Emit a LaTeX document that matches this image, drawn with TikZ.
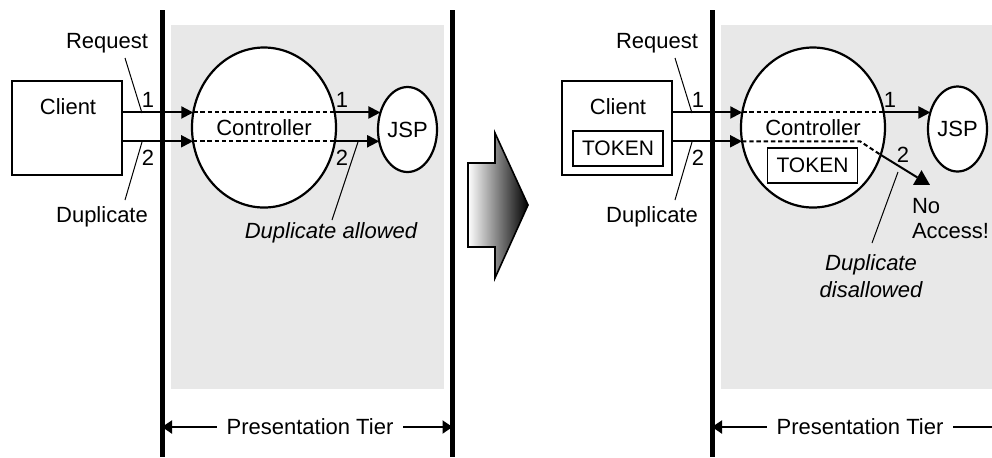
\documentclass[tikz,border=0pt]{standalone}
\usepackage{fontspec}
\setmainfont{Liberation Sans}
\usetikzlibrary{arrows.meta,shapes.geometric}
\definecolor{tier}{RGB}{232,232,232}
\begin{document}
\begin{tikzpicture}[x=0.5pt,y=-0.5pt,
  every node/.style={font=\fontsize{11}{13}\selectfont,inner sep=0pt,outer sep=0pt},
  clientbox/.style={draw,line width=1pt,minimum width=55pt,minimum height=47pt},
  tokenbox/.style={draw,line width=0.6pt,minimum width=45pt,minimum height=17.5pt,font=\fontsize{10.5}{12}\selectfont},
  ctrlshape/.style={ellipse,draw,fill=white,line width=1.1pt,minimum width=72pt,minimum height=80pt},
  jspshape/.style={ellipse,draw,fill=white,line width=1.1pt,minimum width=29.5pt,minimum height=42.5pt},
  arr/.style={line width=1pt,-{Triangle[length=6pt,width=6pt]}},
  dash line/.style={line width=1pt,dash pattern=on 2.2pt off 1.4pt},
  lead/.style={line width=0.5pt},
  tierline/.style={line width=2.5pt},
  ptarr/.style={line width=1pt,-{Triangle[length=5pt,width=6.5pt]}},
  note/.style={font=\fontsize{11}{13.5}\selectfont\itshape,align=center}
]
\useasboundingbox (0,0) rectangle (992,457);

% ---------------- left panel ----------------
\fill[tier] (171,25) rectangle (444,389);
\coordinate (v1t) at (162,10); \coordinate (v1b) at (162,457);
\coordinate (v2t) at (452.5,10); \coordinate (v2b) at (452.5,457);
\draw[tierline] (v1t) -- (v1b);
\draw[tierline] (v2t) -- (v2b);

\node[clientbox] (client) at (67,128) {};
\node (clienttxt) at (68,107) {Client};
\node[ctrlshape] (ctrl) at (264,127.5) {Controller};
\node[jspshape] (jsp) at (407.5,129.5) {JSP};

\coordinate (cL1) at (ctrl.168.4); \coordinate (cR1) at (cL1 -| ctrl.11.6);
\coordinate (cL2) at (ctrl.191.6); \coordinate (cR2) at (cL2 -| ctrl.-11.6);
\draw[arr] (client.east |- cL1) -- (cL1);
\draw[arr] (client.east |- cL2) -- (cL2);
\draw[dash line] (cL1) -- (cR1);
\draw[dash line] (cL2) -- (cR2);
\draw[arr] (cR1) -- (cR1 -| jsp.148.8);
\draw[arr] (cR2) -- (cR2 -| jsp.203.9);

\node (n1a) at (148,100) {1};
\node (n2a) at (148,158) {2};
\node (n1b) at (342,100) {1};
\node (n2b) at (342,158) {2};

\node (req) at (107,43) {Request};
\node (dup) at (102,217) {Duplicate};
\coordinate (reqtail) at (125,58); \coordinate (reqhead) at (142,113);
\coordinate (duptail) at (125,200); \coordinate (duphead) at (142,142);
\draw[lead] (reqtail) -- (reqhead);
\draw[lead] (duptail) -- (duphead);

\node[note] (dupok) at (331,233) {Duplicate allowed};
\coordinate (oktail) at (332,220); \coordinate (okhead) at (358,142);
\draw[lead] (oktail) -- (okhead);

\node (pt) at (310,427) {Presentation Tier};
\draw[ptarr] ([xshift=-5pt]pt.west) -- (pt.west -| v1t);
\draw[ptarr] ([xshift=5pt]pt.east) -- (pt.east -| v2t);

% ---------------- big arrow ----------------
\path[draw,line width=0.8pt,left color=white,right color=black]
  (468,163) -- (495,163) -- (495,133) -- (528,205) -- (495,278) -- (495,247) -- (468,247) -- cycle;

% ---------------- right panel ----------------
\fill[tier] (721,25) rectangle (992,389);
\coordinate (w1t) at (712,10); \coordinate (w1b) at (712,457);
\coordinate (w2t) at (1002.5,10);
\draw[tierline] (w1t) -- (w1b);

\node[clientbox] (client2) at (617,128) {};
\node (clienttxt2) at (618,107) {Client};
\node[tokenbox] (tok1) at (618,148.5) {TOKEN};
\node[ctrlshape] (ctrl2) at (813,127.5) {Controller};
\node[tokenbox] (tok2) at (812.5,165.5) {TOKEN};
\node[jspshape] (jsp2) at (957.5,129) {JSP};

\coordinate (dL1) at (ctrl2.168.4); \coordinate (dR1) at (dL1 -| ctrl2.11.6);
\coordinate (dL2) at (ctrl2.191.6);
\draw[arr] (client2.east |- dL1) -- (dL1);
\draw[arr] (client2.east |- dL2) -- (dL2);
\draw[dash line] (dL1) -- (dR1);
\coordinate (bend) at (dL2 -| 860,0);
\draw[dash line] (dL2) -- (bend) -- (ctrl2.-22.3);
\draw[arr] (dR1) -- (dR1 -| jsp2.148.8);
\node[regular polygon,regular polygon sides=3,fill,minimum size=9.8pt] (blk) at (921.5,180) {};
\draw[line width=1pt] (ctrl2.-22.3) -- (blk);

\node (m1a) at (698,100) {1};
\node (m2a) at (698,158) {2};
\node (m1b) at (890,100) {1};
\node (m2b) at (903,155) {2};

\node (req2) at (657,43) {Request};
\node (dup2) at (652,217) {Duplicate};
\coordinate (reqtail2) at (675,58); \coordinate (reqhead2) at (692,113);
\coordinate (duptail2) at (675,200); \coordinate (duphead2) at (692,142);
\draw[lead] (reqtail2) -- (reqhead2);
\draw[lead] (duptail2) -- (duphead2);

\node[align=left,anchor=base west,font=\fontsize{11}{12.5}\selectfont] (noacc) at (912,238) {No\\Access!};

\node[note] (dupno) at (871,276.5) {Duplicate\\disallowed};
\coordinate (notail) at (872,243); \coordinate (nohead) at (898,172);
\draw[lead] (notail) -- (nohead);

\node (pt2) at (860,427) {Presentation Tier};
\draw[ptarr] ([xshift=-5pt]pt2.west) -- (pt2.west -| w1t);
\draw[ptarr] ([xshift=5pt]pt2.east) -- (pt2.east -| w2t);
\end{tikzpicture}
\end{document}
